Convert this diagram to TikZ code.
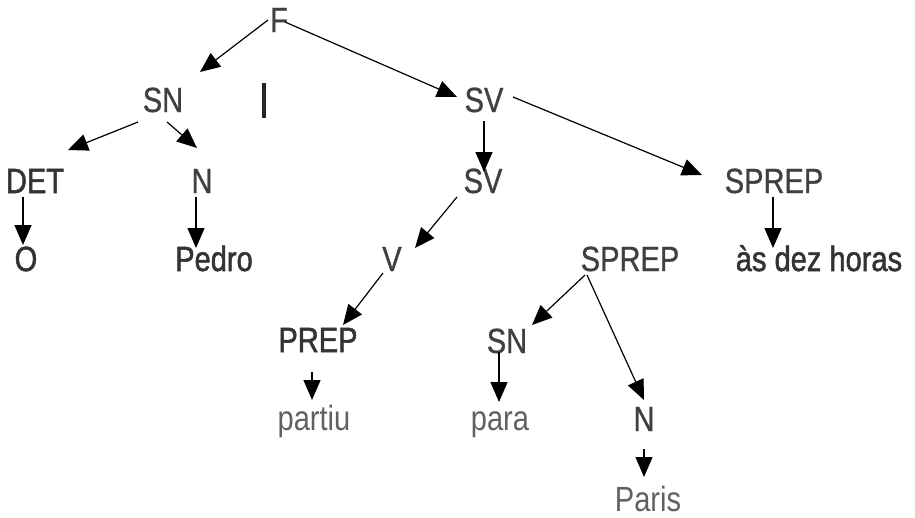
\documentclass[tikz,border=0pt]{standalone}
\usepackage{fontspec}
\usetikzlibrary{arrows.meta}
\newfontfamily\treefont[FakeStretch=0.83,FakeBold=0.8]{Liberation Sans}
\newfontfamily\treefontb[FakeStretch=0.83,FakeBold=1.4]{Liberation Sans}
\newfontfamily\treefontw[FakeStretch=0.83]{Liberation Sans}
\begin{document}
\begin{tikzpicture}[x=1pt,y=-1pt,
  lab/.style={anchor=base,inner sep=0pt,font=\treefont\fontsize{35}{40}\selectfont,text=black!75},
  word/.style={lab,font=\treefontw\fontsize{35}{40}\selectfont,text=black!62},
  strong/.style={lab,font=\treefontb\fontsize{35}{40}\selectfont,text=black!80},
  arr/.style={line width=1.2pt,-{Triangle[length=20pt,width=17pt]}}]
\useasboundingbox (0,0) rectangle (915,517);
\node[lab] (F) at (279,32) {F};
\node[lab] (SNa) at (163,112) {SN};
\node[strong] (DET) at (35,193) {DET};
\node[lab] (Na) at (202,193) {N};
\node[strong] (O) at (26,271) {O};
\node[strong] (Pedro) at (214,271) {Pedro};
\node[lab] (SVa) at (484,112) {SV};
\node[lab] (SVb) at (483,193) {SV};
\node[lab] (SPREPa) at (774,193) {SPREP};
\node[lab] (V) at (392,271) {V};
\node[lab] (SPREPb) at (630,271) {SPREP};
\node[strong] (as) at (819,271) {às dez horas};
\node[strong] (PREP) at (318,352) {PREP};
\node[lab] (SNb) at (507,353) {SN};
\node[word] (partiu) at (314,430) {partiu};
\node[word] (para) at (500,430) {para};
\node[lab] (Nb) at (644,431) {N};
\node[word] (Paris) at (648,511) {Paris};
\draw[line width=3.5pt,black!85] (264,83) -- (264,118);
\draw[arr] ([shift={(-11,-12)}]F.base) -- ([shift={(37,-40)}]SNa.base);
\draw[arr] ([shift={(6,-10)}]F.base) -- ([shift={(-27,-15)}]SVa.base);
\draw[arr] ([shift={(-25,10)}]SNa.base) -- ([shift={(33,-43)}]DET.base);
\draw[arr] ([shift={(4,10)}]SNa.base) -- ([shift={(-5,-45)}]Na.base);
\draw[arr] ([shift={(-12,4)}]DET.base) -- ([shift={(-3,-26)}]O.base);
\draw[arr] ([shift={(-6,4)}]Na.base) -- ([shift={(-18,-23)}]Pedro.base);
\draw[arr] ([shift={(0,9)}]SVa.base) -- ([shift={(1,-21)}]SVb.base);
\draw[arr] ([shift={(29,-15)}]SVa.base) -- ([shift={(-72,-18)}]SPREPa.base);
\draw[arr] ([shift={(-1,4)}]SPREPa.base) -- ([shift={(-46,-23)}]as.base);
\draw[arr] ([shift={(-26,4)}]SVb.base) -- ([shift={(23,-23)}]V.base);
\draw[arr] ([shift={(-9,2)}]V.base) -- ([shift={(25,-27)}]PREP.base);
\draw[arr] ([shift={(-6,20)}]PREP.base) -- ([shift={(-2,-30)}]partiu.base);
\draw[arr] ([shift={(-45,4)}]SPREPb.base) -- ([shift={(25,-28)}]SNb.base);
\draw[arr] ([shift={(-43,4)}]SPREPb.base) -- ([shift={(0,-31)}]Nb.base);
\draw[arr] ([shift={(-8,-1)}]SNb.base) -- ([shift={(-1,-28)}]para.base);
\draw[arr] ([shift={(0,18)}]Nb.base) -- ([shift={(-4,-34)}]Paris.base);
\end{tikzpicture}
\end{document}
